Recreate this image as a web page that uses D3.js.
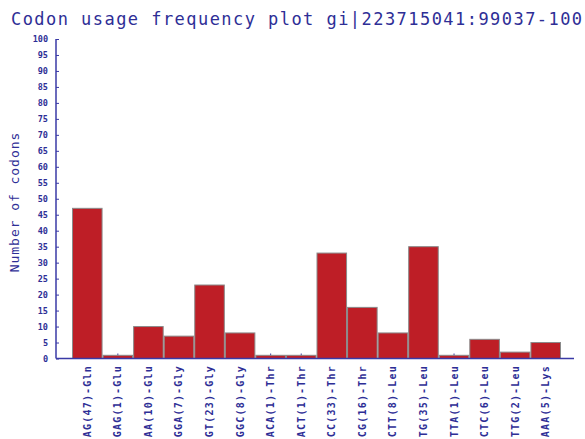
<!DOCTYPE html>
<html>
<head>
<meta charset="utf-8">
<script src="https://cdn.jsdelivr.net/npm/d3@7"></script>
<style>
  body { margin: 0; background: #fff; }
  svg { display: block; }
</style>
</head>
<body>
<div id="chart"></div>
<script>
// codon labels and counts
const codons = [
    "CAG(47)-Gln", "GAG(1)-Glu", "GAA(10)-Glu", "GGA(7)-Gly", "GGT(23)-Gly", "GGC(8)-Gly",
    "ACA(1)-Thr", "ACT(1)-Thr", "ACC(33)-Thr", "ACG(16)-Thr", "CTT(8)-Leu", "CTG(35)-Leu",
    "TTA(1)-Leu", "CTC(6)-Leu", "TTG(2)-Leu", "AAA(5)-Lys"
];
const counts = [47, 1, 10, 7, 23, 8, 1, 1, 33, 16, 8, 35, 1, 6, 2, 5];
const yTicks = d3.range(0, 101, 5);
const titleText = "Codon usage frequency plot gi|223715041:99037-100";

const width = 585, height = 439;
const axisColor = "#3a3aa6";
const textColor = "#2e2e96";
const mono = "'DejaVu Sans Mono', monospace";

const svg = d3.select("#chart").append("svg")
    .attr("width", width)
    .attr("height", height);

const xScale = d3.scaleBand()
    .domain(codons)
    .range([72, 561])
    .padding(0);

const yScale = d3.scaleLinear()
    .domain([0, 100])
    .range([358.5, 39]);

// title
svg.append("text")
    .attr("x", 11)
    .attr("y", 25)
    .attr("fill", textColor)
    .attr("font-family", mono)
    .attr("font-size", 17)
    .attr("letter-spacing", 1.45)
    .text(titleText);

// y axis title
svg.append("text")
    .attr("transform", `translate(19,${202}) rotate(-90)`)
    .attr("text-anchor", "middle")
    .attr("fill", textColor)
    .attr("font-family", mono)
    .attr("font-size", 13)
    .attr("letter-spacing", 0.95)
    .text("Number of codons");

// x ticks, behind the bars
svg.append("g")
    .selectAll("line")
    .data(codons)
    .join("line")
    .attr("x1", d => xScale(d) + xScale.bandwidth() / 2)
    .attr("x2", d => xScale(d) + xScale.bandwidth() / 2)
    .attr("y1", yScale(0))
    .attr("y2", yScale(0) - 5)
    .attr("stroke", axisColor)
    .attr("stroke-width", 1);

// bars
svg.append("g")
    .selectAll("rect")
    .data(codons)
    .join("rect")
    .attr("x", d => xScale(d) + 0.5)
    .attr("y", (d, i) => yScale(counts[i]))
    .attr("width", xScale.bandwidth() - 1)
    .attr("height", (d, i) => yScale(0) - yScale(counts[i]))
    .attr("fill", "#be1e26")
    .attr("stroke", "#8a8a8a")
    .attr("stroke-width", 1);

// y axis
const yAxis = svg.append("g")
    .attr("transform", "translate(56,0)")
    .call(d3.axisRight(yScale).tickValues(yTicks).tickSize(3).tickFormat(""));
yAxis.select(".domain").remove();
yAxis.selectAll("line").attr("stroke", axisColor);
svg.append("line")
    .attr("x1", 56).attr("x2", 56)
    .attr("y1", yScale(100)).attr("y2", yScale(0))
    .attr("stroke", axisColor).attr("stroke-width", 1.5);

svg.append("g")
    .selectAll("text")
    .data(yTicks)
    .join("text")
    .attr("x", 48)
    .attr("y", d => yScale(d) + 3)
    .attr("text-anchor", "end")
    .attr("fill", textColor)
    .attr("font-family", mono)
    .attr("font-size", 8.5)
    .attr("font-weight", "bold")
    .text(d => d);

// x axis line
svg.append("line")
    .attr("x1", 56).attr("x2", 574)
    .attr("y1", yScale(0)).attr("y2", yScale(0))
    .attr("stroke", axisColor).attr("stroke-width", 1.5);

// x tick labels, rotated
svg.append("g")
    .selectAll("text")
    .data(codons)
    .join("text")
    .attr("transform", d => `translate(${xScale(d) + xScale.bandwidth() / 2 + 3.5},365) rotate(-90)`)
    .attr("text-anchor", "end")
    .attr("fill", textColor)
    .attr("font-family", mono)
    .attr("font-size", 10)
    .attr("font-weight", "bold")
    .attr("letter-spacing", 1.2)
    .text(d => d);
</script>
</body>
</html>
